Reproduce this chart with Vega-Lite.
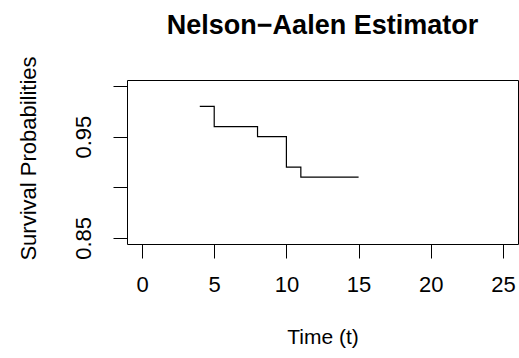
{
  "$schema": "https://vega.github.io/schema/vega-lite/v6.json",
  "width": 391,
  "height": 164,
  "autosize": {"type": "none"},
  "padding": {"left": 127, "top": 80, "right": 1, "bottom": 114},
  "background": "white",
  "config": {
    "view": {"stroke": "black", "strokeWidth": 1},
    "font": "Liberation Sans"
  },
  "title": {
    "text": "Nelson−Aalen Estimator",
    "font": "Liberation Sans",
    "fontSize": 27,
    "fontWeight": "bold",
    "color": "black",
    "anchor": "middle",
    "baseline": "alphabetic",
    "offset": -5,
    "frame": "group"
  },
  "data": {
    "values": [
      {"t": 4, "s": 0.98},
      {"t": 5, "s": 0.96},
      {"t": 8, "s": 0.95},
      {"t": 10, "s": 0.92},
      {"t": 11, "s": 0.91},
      {"t": 15, "s": 0.91}
    ]
  },
  "mark": {"type": "line", "interpolate": "step-after", "color": "black", "strokeWidth": 1.2},
  "encoding": {
    "x": {
      "field": "t",
      "type": "quantitative",
      "scale": {"domain": [-1.04, 26.04], "nice": false, "zero": false},
      "axis": {
        "title": "Time (t)",
        "values": [0, 5, 10, 15, 20, 25],
        "domain": false,
        "grid": false,
        "tickSize": 14,
        "tickColor": "black",
        "tickWidth": 1,
        "labelFont": "Liberation Sans",
        "labelFontSize": 22,
        "labelColor": "black",
        "labelBaseline": "alphabetic",
        "labelPadding": 33,
        "labelFlush": false,
        "titleFont": "Liberation Sans",
        "titleFontSize": 21,
        "titleFontWeight": "normal",
        "titleColor": "black",
        "titleBaseline": "alphabetic",
        "titleY": 99
      }
    },
    "y": {
      "field": "s",
      "type": "quantitative",
      "scale": {"domain": [0.844, 1.006], "nice": false, "zero": false},
      "axis": {
        "title": "Survival Probabilities",
        "values": [0.85, 0.9, 0.95, 1.0],
        "format": ".2f",
        "labelExpr": "datum.value < 0.87 || (datum.value > 0.93 && datum.value < 0.97) ? datum.label : ''",
        "domain": false,
        "grid": false,
        "tickSize": 14,
        "tickColor": "black",
        "tickWidth": 1,
        "labelFont": "Liberation Sans",
        "labelFontSize": 22,
        "labelColor": "black",
        "labelAngle": -90,
        "labelAlign": "center",
        "labelBaseline": "alphabetic",
        "labelPadding": 23,
        "labelFlush": false,
        "titleFont": "Liberation Sans",
        "titleFontSize": 22,
        "titleFontWeight": "normal",
        "titleColor": "black",
        "titleAngle": -90,
        "titleAlign": "center",
        "titleBaseline": "alphabetic",
        "titleX": -92,
        "titleY": 78
      }
    }
  }
}
